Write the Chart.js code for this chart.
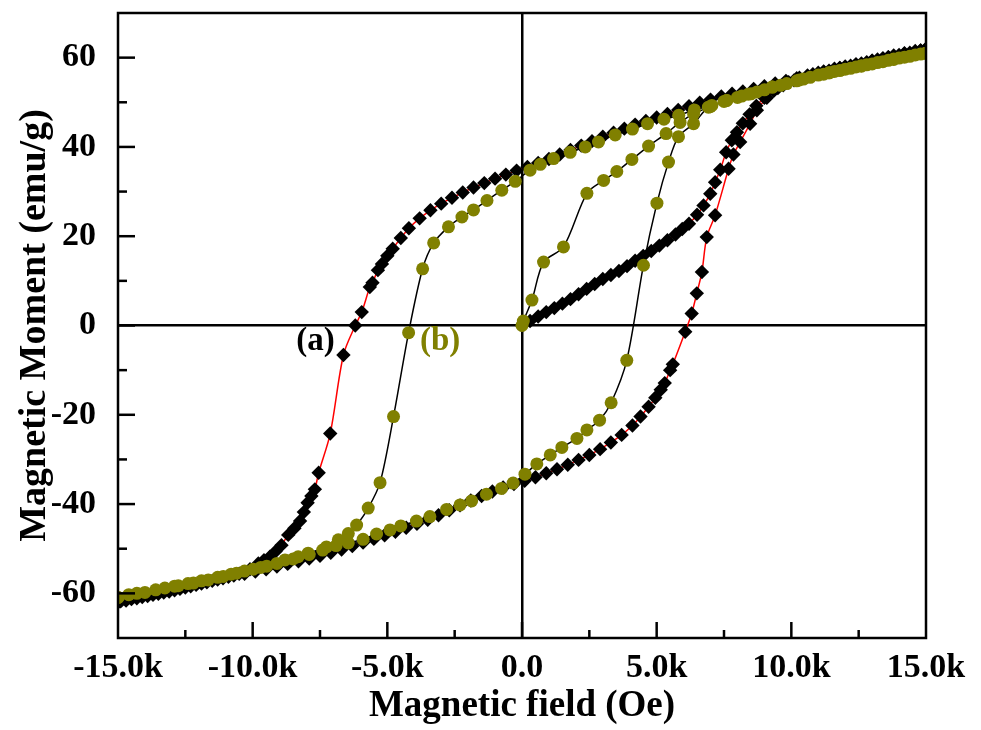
<!doctype html>
<html lang="en">
<head>
<meta charset="utf-8">
<title>Magnetic hysteresis loops</title>
<script src="https://cdn.jsdelivr.net/npm/chart.js@4.4.1/dist/chart.umd.min.js"></script>
<style>
  * { margin: 0; padding: 0; }
  body { background: #fff; }
  #wrap { position: relative; width: 981px; height: 730px; }
</style>
</head>
<body>
<div id="wrap"><canvas id="loop"></canvas></div>
<script>
// field in kOe, moment in emu/g

// sample (a): virgin curve, descending branch, ascending branch
const aVirginH = [
  0, 0.3, 0.6, 0.9, 1.2, 1.5, 1.8, 2.1, 2.4, 2.7,
  3.0, 3.3, 3.6, 3.9, 4.2, 4.5, 4.8, 5.1, 5.4, 5.7,
  5.95, 6.2, 6.5, 6.74, 6.99, 7.17, 7.36, 7.58, 7.79, 7.98,
  8.2, 8.45, 8.7, 9.0, 9.35, 9.7, 10.1, 10.6, 11.2, 11.8,
  12.4, 13.0, 13.6, 14.2, 14.8];
const aVirginM = [
  0, 1.0, 2.0, 3.0, 3.9, 4.9, 5.9, 7.0, 8.2, 9.3,
  10.4, 11.3, 12.2, 13.3, 14.5, 15.6, 16.7, 17.9, 19.1, 20.4,
  21.6, 22.8, 24.8, 26.9, 29.5, 32.1, 34.9, 38.8, 41.5, 43.3,
  45.3, 47.3, 49.2, 51.0, 52.6, 53.8, 54.9, 55.8, 56.8, 57.7,
  58.5, 59.3, 60.1, 60.9, 61.6];

const aDownH = [
  15.0, 14.6, 14.2, 13.8, 13.4, 13.0, 12.6, 12.2, 11.8, 11.4,
  11.0, 10.6, 10.2, 9.8, 9.4, 9.0, 8.6, 8.2, 7.8, 7.4,
  7.0, 6.6, 6.2, 5.8, 5.4, 5.0, 4.6, 4.2, 3.8, 3.4,
  3.0, 2.6, 2.2, 1.8, 1.4, 1.0, 0.6, 0.2, -0.2, -0.6,
  -1.0, -1.4, -1.8, -2.2, -2.6, -3.0, -3.4, -3.8, -4.2, -4.5,
  -4.8, -5.0, -5.2, -5.35, -5.55, -5.65, -5.95, -6.19, -6.63, -7.12,
  -7.55, -7.69, -7.82, -7.96, -8.1, -8.24, -8.45, -8.68, -8.93, -9.15,
  -9.36, -9.58, -9.79, -10.1, -10.5, -10.9, -11.3, -11.7, -12.1, -12.5,
  -12.9, -13.3, -13.7, -14.1, -14.5, -14.9, -15.0];
const aDownM = [
  62.0, 61.5, 61.0, 60.5, 59.9, 59.3, 58.7, 58.2, 57.7, 57.1,
  56.6, 56.0, 55.4, 54.8, 54.2, 53.6, 53.0, 52.4, 51.9, 51.3,
  50.6, 49.9, 49.1, 48.3, 47.4, 46.6, 45.8, 45.0, 44.1, 43.2,
  42.3, 41.3, 40.3, 39.3, 38.3, 37.3, 36.4, 35.5, 34.7, 33.8,
  32.9, 31.9, 30.9, 29.8, 28.6, 27.3, 25.8, 24.0, 21.8, 19.6,
  17.2, 15.6, 13.8, 12.4, 9.6, 8.6, 3.0, 0, -6.6, -24.2,
  -33.0, -36.7, -38.2, -39.7, -41.8, -43.8, -45.4, -46.9, -49.2, -50.6,
  -51.8, -52.6, -53.3, -54.6, -55.6, -56.3, -56.9, -57.5, -58.1, -58.7,
  -59.3, -59.8, -60.3, -60.8, -61.3, -61.8, -62.0];

const aUpH = [
  -15.0, -14.7, -14.3, -13.9, -13.5, -13.1, -12.7, -12.3, -11.9, -11.5,
  -11.1, -10.7, -10.3, -9.9, -9.5, -9.1, -8.7, -8.3, -7.9, -7.5,
  -7.1, -6.7, -6.3, -5.9, -5.5, -5.1, -4.7, -4.3, -3.9, -3.5,
  -3.1, -2.7, -2.3, -1.9, -1.5, -1.1, -0.7, -0.3, 0.1, 0.5,
  0.9, 1.3, 1.7, 2.1, 2.5, 2.9, 3.3, 3.7, 4.1, 4.4,
  4.7, 4.95, 5.15, 5.3, 5.5, 5.6, 6.06, 6.3, 6.49, 6.68,
  6.86, 7.17, 7.67, 7.85, 8.1, 8.47, 8.72, 9.09, 9.5, 9.9,
  10.3, 10.8, 11.2, 11.6, 12.0, 12.4, 12.8, 13.2, 13.6, 14.0,
  14.4, 14.8, 15.0];
const aUpM = [
  -62.0, -61.6, -61.1, -60.6, -60.1, -59.6, -59.0, -58.4, -57.8, -57.2,
  -56.6, -56.0, -55.6, -55.1, -54.6, -54.0, -53.4, -52.8, -52.2, -51.6,
  -50.9, -50.2, -49.4, -48.6, -47.8, -47.0, -46.2, -45.3, -44.4, -43.5,
  -42.5, -41.4, -40.3, -39.2, -38.2, -37.2, -36.3, -35.5, -34.8, -34.0,
  -33.1, -32.2, -31.2, -30.1, -29.0, -27.7, -26.2, -24.5, -22.4, -20.4,
  -18.2, -16.2, -14.4, -12.9, -10.0, -8.7, -1.4, 2.7, 7.2, 12.0,
  19.8, 24.7, 35.1, 38.3, 41.1, 45.2, 48.2, 51.0, 53.2, 54.5,
  55.5, 56.3, 56.9, 57.5, 58.0, 58.5, 59.0, 59.6, 60.1, 60.6,
  61.1, 61.6, 61.9];

// sample (b)
const bVirginH = [0, 0.05, 0.37, 0.8, 1.54, 2.41, 3.03, 3.52, 4.08, 4.7,
  5.35, 5.87, 6.37, 6.99, 7.6, 8.4, 9.3, 10.3, 11.4, 12.6, 13.8, 15.0];
const bVirginM = [0, 1.0, 5.7, 14.2, 17.6, 29.6, 32.5, 34.5, 37.2, 40.2,
  43.0, 45.5, 47.4, 49.0, 50.4, 51.8, 53.4, 55.0, 56.6, 58.2, 59.7, 61.0];

const bDownH = [
  15.0, 14.6, 14.2, 13.8, 13.4, 13.0, 12.6, 12.2, 11.8, 11.4,
  11.0, 10.45, 9.83, 9.28, 8.72, 8.16, 7.6, 7.05, 6.4, 5.82,
  5.27, 4.66, 4.1, 3.46, 2.84, 2.35, 1.79, 1.17, 0.68, 0.3,
  -0.25, -0.75, -1.3, -1.8, -2.23, -2.73, -3.28, -3.69, -4.21, -4.77,
  -5.27, -5.71, -6.14, -6.45, -6.82, -7.26, -7.94, -8.31, -8.8, -9.48,
  -9.98, -10.6, -11.09, -11.65, -12.2, -12.76, -13.26, -14.0, -14.6, -15.0];
const bDownM = [
  61.0, 60.6, 60.1, 59.6, 59.1, 58.6, 58.1, 57.6, 57.1, 56.6,
  56.1, 55.2, 54.2, 53.4, 52.3, 51.4, 50.4, 49.3, 48.3, 47.1,
  46.2, 45.2, 44.0, 42.7, 41.1, 40.0, 38.8, 37.4, 36.1, 34.8,
  32.3, 30.3, 28.0, 25.9, 24.3, 22.1, 18.5, 12.7, -1.6, -20.4,
  -35.2, -40.9, -44.7, -46.6, -48.0, -49.6, -51.0, -51.8, -52.5, -53.9,
  -54.6, -55.5, -56.2, -57.0, -57.7, -58.3, -58.8, -59.8, -60.3, -60.9];

const bUpH = [
  -15.0, -14.3, -13.6, -12.9, -12.4, -11.9, -11.3, -10.8, -10.3, -9.7,
  -9.1, -8.5, -7.9, -7.4, -6.9, -6.45, -5.9, -5.4, -4.9, -4.5,
  -3.92, -3.42, -2.8, -2.3, -1.87, -1.32, -0.76, -0.33, 0.11, 0.55,
  1.05, 1.48, 2.04, 2.41, 2.88, 3.31, 3.89, 4.51, 5.01, 5.44,
  5.81, 6.37, 6.92, 7.5, 8.0, 8.5, 9.0, 9.6, 10.2, 10.7,
  11.2, 11.6, 12.0, 12.4, 12.8, 13.2, 13.6, 14.0, 14.4, 14.8,
  15.0];
const bUpM = [
  -60.9, -60.0, -59.2, -58.4, -57.8, -57.2, -56.4, -55.7, -55.0, -54.2,
  -53.3, -52.3, -51.3, -50.3, -49.3, -48.7, -47.9, -46.7, -45.8, -44.9,
  -43.8, -42.8, -41.2, -40.2, -39.3, -37.8, -36.5, -35.3, -33.3, -31.0,
  -29.0, -27.3, -25.3, -23.4, -21.2, -17.3, -7.8, 13.5, 27.4, 36.6,
  42.3, 45.2, 48.9, 50.2, 51.1, 51.9, 52.8, 53.8, 54.8, 55.6,
  56.3, 56.9, 57.4, 57.9, 58.4, 58.9, 59.4, 59.9, 60.3, 60.8,
  61.0];

// axis ticks
const fieldTicks = [-15, -10, -5, 0, 5, 10, 15];
const momentTicks = [-60, -40, -20, 0, 20, 40, 60];

const serif = "'Liberation Serif', 'Times New Roman', serif";
const olive = '#808000';

const pts = (h, m) => h.map((v, i) => ({ x: v, y: m[i] }));

const sampleA = [...pts(aVirginH, aVirginM), ...pts(aDownH, aDownM), ...pts(aUpH, aUpM)];
const sampleB = [...pts(bVirginH, bVirginM), ...pts(bDownH, bDownM), ...pts(bUpH, bUpM)];

// curve labels, in data coordinates
const curveLabels = [
  { text: '(a)', x: -7.67, y: -3.6, color: '#000' },
  { text: '(b)', x: -3.04, y: -3.6, color: olive }
];

// inward tick marks, frame and the (a)/(b) labels
const decor = {
  id: 'decor',
  afterDraw(chart) {
    const { ctx, chartArea: a, scales: { x, y } } = chart;
    ctx.save();
    ctx.strokeStyle = '#000';
    ctx.lineWidth = 2.5;
    for (let v = -12.5; v < 15; v += 2.5) {
      const px = x.getPixelForValue(v);
      const len = Math.abs(v % 5) < 1e-6 ? 16 : 8;
      ctx.beginPath();
      ctx.moveTo(px, a.bottom);
      ctx.lineTo(px, a.bottom - len);
      ctx.stroke();
    }
    for (let v = -60; v <= 60; v += 10) {
      const py = y.getPixelForValue(v);
      const len = v % 20 === 0 ? 17 : 9;
      ctx.beginPath();
      ctx.moveTo(a.left, py);
      ctx.lineTo(a.left + len, py);
      ctx.stroke();
    }
    ctx.strokeRect(a.left, a.top, a.right - a.left, a.bottom - a.top);

    ctx.font = 'bold 33px ' + serif;
    ctx.textAlign = 'center';
    ctx.textBaseline = 'middle';
    curveLabels.forEach(l => {
      ctx.fillStyle = l.color;
      ctx.fillText(l.text, x.getPixelForValue(l.x), y.getPixelForValue(l.y));
    });
    ctx.restore();
  }
};

const zeroLine = c => (c.tick && c.tick.value === 0) ? '#000' : 'rgba(0,0,0,0)';

new Chart(document.getElementById('loop'), {
  type: 'scatter',
  data: {
    datasets: [
      {
        label: '(b)',
        data: sampleB,
        showLine: true,
        borderColor: '#000',
        borderWidth: 1.5,
        tension: 0.3,
        pointStyle: 'circle',
        pointRadius: 6.5,
        pointBackgroundColor: olive,
        pointBorderColor: olive,
        pointBorderWidth: 0
      },
      {
        label: '(a)',
        data: sampleA,
        showLine: true,
        borderColor: '#ff0000',
        borderWidth: 1.5,
        tension: 0.3,
        pointStyle: 'rectRot',
        pointRadius: 7.2,
        pointBackgroundColor: '#000',
        pointBorderColor: '#000',
        pointBorderWidth: 0
      }
    ]
  },
  options: {
    responsive: true,
    maintainAspectRatio: false,
    animation: false,
    events: [],
    layout: { padding: { top: 13, right: 55, left: 0, bottom: 0 } },
    plugins: {
      legend: { display: false },
      tooltip: { enabled: false }
    },
    scales: {
      x: {
        type: 'linear',
        min: -15,
        max: 15,
        afterBuildTicks: s => { s.ticks = fieldTicks.map(v => ({ value: v })); },
        afterFit: s => { s.height = 92; },
        border: { display: false },
        grid: { drawTicks: false, color: zeroLine, lineWidth: 2.5 },
        ticks: {
          padding: 10,
          color: '#000',
          maxRotation: 0,
          font: { family: serif, size: 34, weight: 'bold' },
          callback: v => v === 0 ? '0.0' : v.toFixed(1) + 'k'
        },
        title: {
          display: true,
          text: 'Magnetic field (Oe)',
          color: '#000',
          padding: { top: 0, bottom: 1 },
          font: { family: serif, size: 37, weight: 'bold' }
        }
      },
      y: {
        type: 'linear',
        min: -70,
        max: 70,
        afterBuildTicks: s => { s.ticks = momentTicks.map(v => ({ value: v })); },
        afterFit: s => { s.width = 118; s.paddingTop = 0; s.paddingBottom = 0; },
        border: { display: false },
        grid: { drawTicks: false, color: zeroLine, lineWidth: 2.5 },
        ticks: {
          padding: 22,
          color: '#000',
          font: { family: serif, size: 34, weight: 'bold' },
          callback: v => String(v)
        },
        title: {
          display: true,
          text: 'Magnetic Moment (emu/g)',
          color: '#000',
          padding: { top: 12, bottom: 0 },
          font: { family: serif, size: 38, weight: 'bold' }
        }
      }
    }
  },
  plugins: [decor]
});
</script>
</body>
</html>
